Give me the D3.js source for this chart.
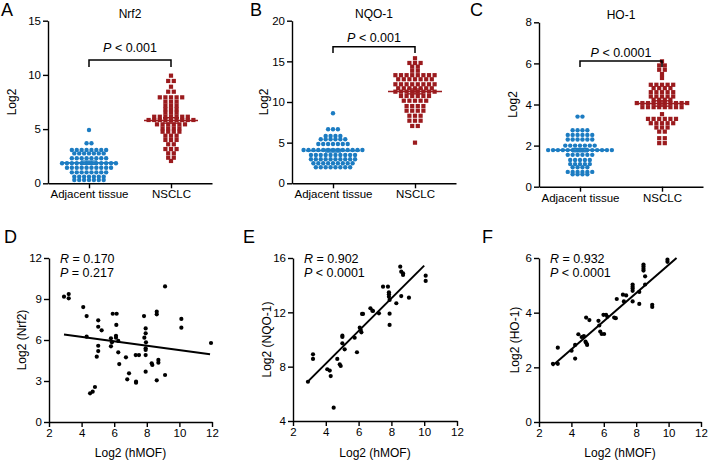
<!DOCTYPE html>
<html><head><meta charset="utf-8">
<script src="https://cdn.jsdelivr.net/npm/d3@7"></script>
<style>
body{margin:0;background:#fff;}
text{font-family:"Liberation Sans",Arial,sans-serif;fill:#000;}
</style>
</head><body>
<svg id="c" width="709" height="460"></svg>
<script>
// ---------- DATA ----------
const groups = ["Adjacent tissue", "NSCLC"];

const nrf2Adjacent = [4.92, 3.69, 3.69,
  3.07, 3.07, 3.07, 3.07, 3.07, 3.07, 3.07, 3.07,
  2.76, 2.76, 2.76, 2.76, 2.76, 2.76, 2.76,
  2.31, 2.31, 2.31, 2.31, 2.31, 2.31, 2.31, 2.31,
  1.85, 1.85, 1.85, 1.85, 1.85, 1.85, 1.85, 1.85, 1.85, 1.85, 1.85, 1.85,
  1.44, 1.44, 1.44, 1.44, 1.44, 1.44, 1.44, 1.44, 1.44, 1.44,
  1.01, 1.01, 1.01, 1.01, 1.01, 1.01, 1.01, 1.01,
  0.61, 0.61, 0.61, 0.61, 0.61, 0.61, 0.61,
  0.31, 0.31, 0.31, 0.31, 0.31, 0.31, 0.31];
const nrf2NSCLC = [9.93, 9.44, 9.44, 8.91, 8.45, 8.45,
  7.93, 7.93, 7.93, 7.93, 7.93, 7.53, 7.53, 7.53, 7.16, 7.16, 7.16,
  6.83, 6.83, 6.83, 6.51, 6.51, 6.51,
  6.14, 6.14, 6.14, 6.14, 6.14, 6.14, 6.14,
  5.84, 5.84, 5.84, 5.84, 5.84, 5.84, 5.84, 5.84, 5.84,
  5.44, 5.44, 5.44, 5.44, 5.44, 5.44,
  5.07, 5.07, 5.07, 5.07, 4.76, 4.76, 4.76, 4.76,
  4.39, 4.39, 4.39, 4.0, 4.0, 4.0, 3.6, 3.6,
  3.16, 3.16, 3.16, 2.77, 2.77, 2.36, 2.36, 2.06];

const nqo1Adjacent = [8.61, 6.64, 6.64, 6.64,
  5.82, 5.82, 5.82, 5.82, 5.41, 5.41, 5.41, 5.41, 5.41, 5.41,
  4.84, 4.84, 4.84, 4.84, 4.84, 4.84, 4.84,
  4.1, 4.1, 4.1, 4.1, 4.1, 4.1, 4.1, 4.1, 4.1, 4.1, 4.1, 4.1, 4.1,
  3.48, 3.48, 3.48, 3.48, 3.48, 3.48, 3.48, 3.48, 3.48, 3.48,
  2.95, 2.95, 2.95, 2.95, 2.95, 2.95, 2.95, 2.95, 2.95, 2.95,
  2.46, 2.46, 2.46, 2.46, 2.46, 2.46, 2.46, 2.46, 2.46,
  1.97, 1.97, 1.97, 1.97, 1.97, 1.97, 1.97, 1.97];
const nqo1NSCLC = [15.38, 14.8, 14.8, 14.8, 14.35, 14.35, 13.85, 13.85,
  13.3, 13.3, 13.3, 13.3, 13.3, 13.3, 13.3, 13.3,
  12.8, 12.8, 12.8, 12.8, 12.8, 12.8, 12.8,
  12.18, 12.18, 12.18, 12.18, 12.18, 12.18, 12.18, 12.18,
  11.69, 11.69, 11.69, 11.69, 11.69, 11.69, 11.69,
  11.27, 11.27, 11.27, 11.27, 11.27, 11.27, 11.27, 11.27,
  10.74, 10.74, 10.74, 10.74, 10.74, 10.74,
  10.16, 10.16, 10.16, 10.16, 10.16, 9.5, 9.5, 9.5, 9.5,
  8.93, 8.93, 8.93, 8.93, 8.31, 8.31, 8.31, 7.7, 7.7, 7.7, 7.05, 7.05, 5.0];

const ho1Adjacent = [3.41, 3.41, 2.75, 2.75, 2.75, 2.75,
  2.52, 2.52, 2.52, 2.52, 2.52, 2.52, 2.3, 2.3, 2.3, 2.3, 2.3, 2.3,
  2.0, 2.0, 2.0, 2.0, 2.0, 2.0, 2.0,
  1.78, 1.78, 1.78, 1.78, 1.78, 1.78, 1.78, 1.78, 1.78, 1.78, 1.78, 1.78, 1.78, 1.78,
  1.55, 1.55, 1.55, 1.55, 1.55, 1.55, 1.3, 1.3, 1.3, 1.3, 1.3,
  1.1, 1.1, 1.1, 1.1, 1.1, 0.95, 0.95, 0.95, 0.95,
  0.72, 0.72, 0.72, 0.72, 0.72, 0.72, 0.6, 0.6, 0.6, 0.6];
const ho1NSCLC = [6.1, 5.9, 5.9, 5.69, 5.69, 5.48, 5.29,
  4.96, 4.96, 4.96, 4.96, 4.96, 4.8, 4.8, 4.8, 4.8,
  4.6, 4.6, 4.6, 4.6, 4.6, 4.39, 4.39, 4.39, 4.39, 4.39, 4.23, 4.23, 4.23, 4.23,
  4.07, 4.07, 4.07, 4.07, 4.07, 4.07, 4.07, 4.07, 4.07, 4.07,
  3.87, 3.87, 3.87, 3.87, 3.87, 3.87, 3.87, 3.87, 3.53,
  3.3, 3.3, 3.3, 3.3, 3.3, 3.3, 3.09, 3.09, 3.09, 3.09, 3.09,
  2.88, 2.88, 2.88, 2.68, 2.68, 2.36, 2.36, 2.12, 2.12];

const nrf2Mean = [1.9, 5.8], nrf2Sem = [0.15, 0.25];
const nqo1Mean = [4.02, 11.3], nqo1Sem = [0.17, 0.3];
const ho1Mean = [1.78, 4.05], ho1Sem = [0.08, 0.13];

const pvalA = "< 0.001", pvalB = "< 0.001", pvalC = "< 0.0001";

// scatter: log2 hMOF vs target
const hmofD = [2.92,3.21,3.21,4.10,4.31,4.31,4.52,4.68,4.82,4.93,5.02,5.02,5.02,5.02,5.23,5.80,5.86,5.80,5.91,6.15,6.13,6.11,6.11,6.25,6.25,6.31,6.72,6.91,6.80,7.32,7.52,7.34,7.34,7.83,7.93,7.93,7.85,7.95,7.93,7.93,7.93,7.93,8.30,8.34,8.61,8.61,8.71,8.71,8.61,9.12,9.12,10.12,10.12,11.94];
const nrf2D = [9.17,9.36,9.05,8.41,7.75,6.24,2.10,2.22,2.56,4.78,5.58,5.19,7.44,6.97,6.71,6.12,5.83,5.54,7.92,7.92,7.10,6.31,6.17,5.93,5.10,4.24,4.73,3.56,3.12,4.90,4.90,2.95,2.88,7.75,6.85,6.49,6.17,5.83,5.39,5.27,4.90,3.68,4.29,4.17,8.07,7.88,4.54,4.34,3.05,9.92,3.44,7.54,6.90,5.78];
const fitD = {x: [2.92, 11.88], y: [6.41, 4.95]};
const statD = ["0.170", "= 0.217"];

const hmofE = [2.91,3.22,3.22,4.09,4.24,4.30,4.48,4.70,4.85,4.91,5.01,5.01,5.01,5.15,5.76,5.90,6.07,6.13,6.17,6.21,6.27,6.72,6.84,6.88,7.24,7.49,7.79,7.85,7.85,7.85,7.89,7.89,7.89,8.30,8.54,8.60,8.71,8.71,8.60,9.07,10.09,10.09];
const nqo1E = [6.89,8.91,8.57,7.81,7.71,7.31,4.98,8.57,8.17,8.05,10.28,10.19,9.72,9.28,10.13,9.06,10.87,10.70,10.53,11.88,11.88,12.30,12.12,12.10,11.93,13.89,13.89,13.47,13.33,13.15,12.91,11.90,11.07,12.67,15.36,14.99,14.87,14.75,13.20,13.08,14.70,14.31];
const fitE = {x: [2.9, 10.0], y: [6.9, 15.44]};
const statE = ["0.902", "< 0.0001"];

const hmofF = [2.86,3.16,3.16,4.01,4.23,4.23,4.43,4.63,4.77,4.87,4.93,4.97,4.91,5.11,5.67,5.72,5.78,5.87,6.02,5.98,6.14,6.22,6.64,6.74,6.80,7.18,7.38,7.24,7.78,7.78,7.78,7.78,7.78,8.19,8.19,8.45,8.45,8.45,8.45,8.55,8.55,8.99,8.99,9.93,9.93];
const ho1F = [2.13,2.13,2.72,2.61,2.82,2.32,3.21,3.11,3.14,2.94,2.88,2.82,3.82,3.73,3.70,3.53,3.31,3.22,3.22,3.92,3.92,3.85,3.82,3.80,4.50,4.66,4.63,4.41,5.03,4.95,4.88,4.80,4.41,4.76,4.32,5.76,5.69,5.61,5.54,5.33,5.03,4.29,4.21,5.94,5.86];
const fitF = {x: [2.83, 10.49], y: [2.06, 6.0]};
const statF = ["0.932", "< 0.0001"];

// ---------- DRAWING ----------
const svg = d3.select("#c");
const BLUE = "#1c7cc2", RED = "#9b1b1e";
const FS = 11.5;

function styleAxis(sel) {
  sel.select(".domain").attr("stroke", "#000").attr("stroke-width", 1.4);
  sel.selectAll(".tick line").attr("stroke", "#000").attr("stroke-width", 1.4);
  sel.selectAll(".tick text").attr("font-size", FS).attr("font-family", '"Liberation Sans",Arial,sans-serif').attr("fill", "#000");
}

function rowsLayout(values, y, cx, spacing) {
  const sorted = values.slice().sort((a, b) => b - a);
  const rows = [];
  let cur = null;
  sorted.forEach(v => {
    const py = y(v);
    if (!cur || Math.abs(py - cur.py0) > 1.5) { cur = {py0: py, items: []}; rows.push(cur); }
    cur.items.push(v);
  });
  const pts = [];
  rows.forEach(r => {
    const n = r.items.length;
    r.items.forEach((v, i) => pts.push({v: v, dx: (i - (n - 1) / 2) * spacing}));
  });
  return pts;
}

function dotPanel(o) {
  const g = svg.append("g");
  const x = d3.scalePoint().domain(groups).range([o.x0, o.x0 + 164]).padding(0.5);
  const y = d3.scaleLinear().domain([0, o.max]).range([o.yb, o.yt]);
  g.append("g").attr("transform", `translate(${o.x0},0)`)
    .call(d3.axisLeft(y).tickValues(o.ticks).tickFormat(d3.format("d")).tickSize(5).tickSizeOuter(0).tickPadding(2))
    .call(styleAxis);
  g.append("g").attr("transform", `translate(0,${o.yb})`)
    .call(d3.axisBottom(x).tickSize(5).tickSizeOuter(0).tickPadding(2))
    .call(styleAxis);

  const cA = x(groups[0]), cB = x(groups[1]);
  g.append("g").selectAll("circle").data(rowsLayout(o.adj, y, cA, 4.9)).join("circle")
    .attr("cx", d => cA + d.dx).attr("cy", d => y(d.v)).attr("r", 2.2).attr("fill", BLUE);
  g.append("g").selectAll("rect").data(rowsLayout(o.tum, y, cB, 5.6)).join("rect")
    .attr("x", d => cB + d.dx - 2.1).attr("y", d => y(d.v) - 2.1).attr("width", 4.2).attr("height", 4.2).attr("fill", RED);

  [[cA, BLUE, 0], [cB, RED, 1]].forEach(([c, col, i]) => {
    const m = o.mean[i], s = o.sem[i];
    g.append("line").attr("x1", c - 27).attr("x2", c + 27).attr("y1", y(m)).attr("y2", y(m))
      .attr("stroke", col).attr("stroke-width", 1.6);
    g.append("line").attr("x1", c).attr("x2", c).attr("y1", y(m - s)).attr("y2", y(m + s))
      .attr("stroke", col).attr("stroke-width", 1.4);
    [m - s, m + s].forEach(v => g.append("line").attr("x1", c - 8).attr("x2", c + 8)
      .attr("y1", y(v)).attr("y2", y(v)).attr("stroke", col).attr("stroke-width", 1.4));
  });

  g.append("path").attr("d", `M${cA},${o.brLeg}V${o.brTop}H${cB}V${o.brLeg}`)
    .attr("fill", "none").attr("stroke", "#000").attr("stroke-width", 1.5);
  const pt = g.append("text").attr("x", (cA + cB) / 2).attr("y", o.pY).attr("text-anchor", "middle").attr("font-size", 12.5);
  pt.append("tspan").attr("font-style", "italic").text("P");
  pt.append("tspan").text(" " + o.p);

  g.append("text").attr("x", (cA + cB) / 2).attr("y", o.tY).attr("text-anchor", "middle")
    .attr("font-size", 12).text(o.title);
  g.append("text").attr("transform", `translate(${o.ylx},${(o.yt + o.yb) / 2}) rotate(-90)`)
    .attr("text-anchor", "middle").attr("dy", "0.35em").attr("font-size", 12).text("Log2");
  g.append("text").attr("x", o.lx).attr("y", 16).attr("font-size", 18).text(o.letter);
}

dotPanel({letter: "A", lx: 1, title: "Nrf2", tY: 18, ylx: 12, x0: 48, yt: 20.7, yb: 183.3, max: 15, ticks: [0, 5, 10, 15],
  adj: nrf2Adjacent, tum: nrf2NSCLC, mean: nrf2Mean, sem: nrf2Sem, p: pvalA, brTop: 60, brLeg: 67, pY: 52});
dotPanel({letter: "B", lx: 250, title: "NQO-1", tY: 18, ylx: 264, x0: 292, yt: 20.7, yb: 183.3, max: 20, ticks: [0, 5, 10, 15, 20],
  adj: nqo1Adjacent, tum: nqo1NSCLC, mean: nqo1Mean, sem: nqo1Sem, p: pvalB, brTop: 46.7, brLeg: 53, pY: 41.5});
dotPanel({letter: "C", lx: 470, title: "HO-1", tY: 19, ylx: 513, x0: 539, yt: 22.3, yb: 186.7, max: 8, ticks: [0, 2, 4, 6, 8],
  adj: ho1Adjacent, tum: ho1NSCLC, mean: ho1Mean, sem: ho1Sem, p: pvalC, brTop: 61, brLeg: 67, pY: 57});

function scatterPanel(o) {
  const g = svg.append("g");
  const x = d3.scaleLinear().domain([2, 12]).range([o.x0, o.x1]);
  const y = d3.scaleLinear().domain(o.yd).range([o.yb, o.yt]);
  g.append("g").attr("transform", `translate(${o.x0},0)`)
    .call(d3.axisLeft(y).tickValues(o.yticks).tickFormat(d3.format("d")).tickSize(5).tickSizeOuter(0).tickPadding(2))
    .call(styleAxis);
  g.append("g").attr("transform", `translate(0,${o.yb})`)
    .call(d3.axisBottom(x).tickValues([2, 4, 6, 8, 10, 12]).tickFormat(d3.format("d")).tickSize(5).tickSizeOuter(0).tickPadding(2))
    .call(styleAxis);
  g.append("g").selectAll("circle").data(o.xs.map((v, i) => [v, o.ys[i]])).join("circle")
    .attr("cx", d => x(d[0])).attr("cy", d => y(d[1])).attr("r", 2.1).attr("fill", "#000");
  g.append("line").attr("x1", x(o.fit.x[0])).attr("y1", y(o.fit.y[0]))
    .attr("x2", x(o.fit.x[1])).attr("y2", y(o.fit.y[1])).attr("stroke", "#000").attr("stroke-width", 2);
  const t1 = g.append("text").attr("x", o.x0 + 11).attr("y", 263).attr("font-size", 12.5);
  t1.append("tspan").attr("font-style", "italic").text("R");
  t1.append("tspan").text(" = " + o.stat[0]);
  const t2 = g.append("text").attr("x", o.x0 + 11).attr("y", 276.5).attr("font-size", 12.5);
  t2.append("tspan").attr("font-style", "italic").text("P");
  t2.append("tspan").text(" " + o.stat[1]);
  g.append("text").attr("x", (o.x0 + o.x1) / 2).attr("y", 457).attr("text-anchor", "middle")
    .attr("font-size", 12).text("Log2 (hMOF)");
  g.append("text").attr("transform", `translate(${o.ylx},${(o.yt + o.yb) / 2}) rotate(-90)`)
    .attr("text-anchor", "middle").attr("dy", "0.35em").attr("font-size", 12).text(o.ylab);
  g.append("text").attr("x", o.lx).attr("y", 243).attr("font-size", 18).text(o.letter);
}

scatterPanel({letter: "D", lx: 4, ylx: 22, x0: 49, x1: 212, yt: 258, yb: 422, yd: [0, 12], yticks: [0, 3, 6, 9, 12],
  xs: hmofD, ys: nrf2D, fit: fitD, stat: statD, ylab: "Log2 (Nrf2)"});
scatterPanel({letter: "E", lx: 243, ylx: 267, x0: 293, x1: 457, yt: 258, yb: 421, yd: [4, 16], yticks: [4, 8, 12, 16],
  xs: hmofE, ys: nqo1E, fit: fitE, stat: statE, ylab: "Log2 (NQO-1)"});
scatterPanel({letter: "F", lx: 482, ylx: 515, x0: 539, x1: 701, yt: 258, yb: 422, yd: [0, 6], yticks: [0, 2, 4, 6],
  xs: hmofF, ys: ho1F, fit: fitF, stat: statF, ylab: "Log2 (HO-1)"});
</script>
</body></html>
